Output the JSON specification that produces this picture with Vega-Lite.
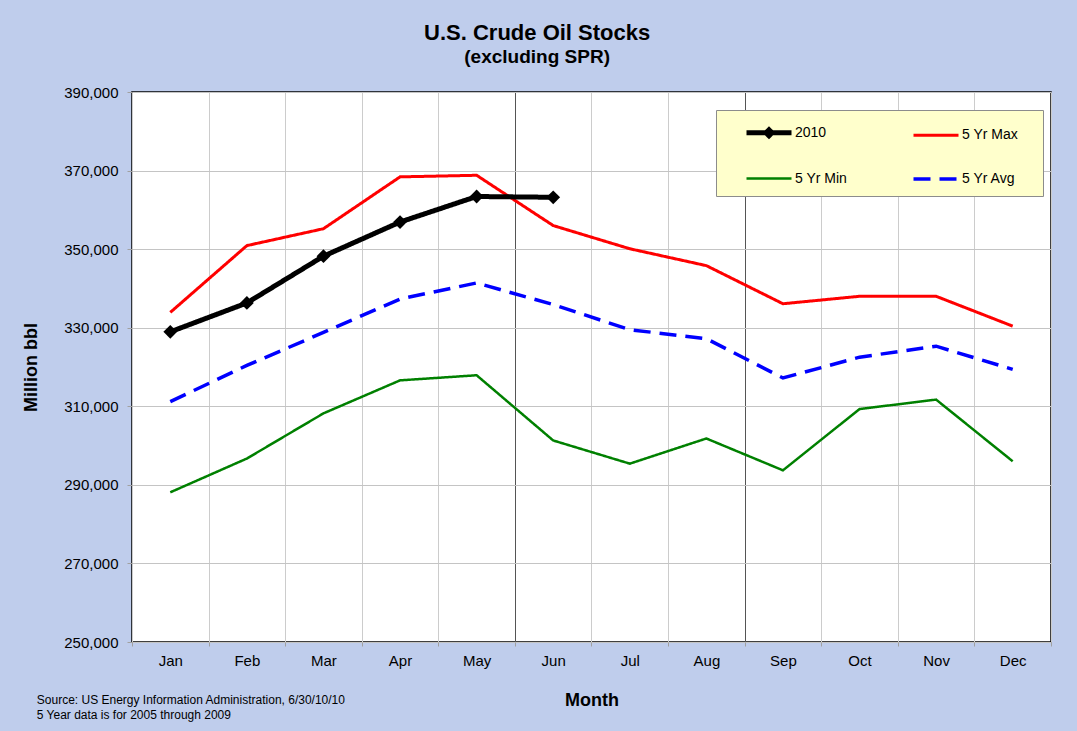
{
  "$schema": "https://vega.github.io/schema/vega-lite/v6.json",
  "background": "#bfcdec",
  "padding": {"left": 22, "top": 22, "right": 25, "bottom": 10},
  "title": {
    "text": "U.S. Crude Oil Stocks",
    "subtitle": "(excluding SPR)",
    "anchor": "middle",
    "font": "Liberation Sans",
    "subtitleFont": "Liberation Sans",
    "fontSize": 22,
    "subtitleFontSize": 19,
    "fontWeight": "bold",
    "subtitleFontWeight": "bold",
    "color": "#000000",
    "subtitleColor": "#000000",
    "subtitlePadding": 3,
    "offset": 16
  },
  "vconcat": [
    {
      "width": 919,
      "height": 550,
      "title": {
        "text": ["Source:  US Energy Information Administration, 6/30/10/10", "5 Year data is for 2005 through 2009"],
        "orient": "bottom",
        "anchor": "start",
        "font": "Liberation Sans",
        "fontSize": 12,
        "fontWeight": "normal",
        "color": "#000000",
        "lineHeight": 15,
        "offset": -14,
        "dx": 14
      },
      "data": {
        "values": [
          {"month": "Jan", "series": "5 Yr Max", "value": 333900},
          {"month": "Feb", "series": "5 Yr Max", "value": 350900},
          {"month": "Mar", "series": "5 Yr Max", "value": 355200},
          {"month": "Apr", "series": "5 Yr Max", "value": 368400},
          {"month": "May", "series": "5 Yr Max", "value": 368800},
          {"month": "Jun", "series": "5 Yr Max", "value": 356000},
          {"month": "Jul", "series": "5 Yr Max", "value": 350100},
          {"month": "Aug", "series": "5 Yr Max", "value": 345800},
          {"month": "Sep", "series": "5 Yr Max", "value": 336100},
          {"month": "Oct", "series": "5 Yr Max", "value": 338000},
          {"month": "Nov", "series": "5 Yr Max", "value": 338000},
          {"month": "Dec", "series": "5 Yr Max", "value": 330400},
          {"month": "Jan", "series": "5 Yr Min", "value": 288100},
          {"month": "Feb", "series": "5 Yr Min", "value": 296700},
          {"month": "Mar", "series": "5 Yr Min", "value": 308200},
          {"month": "Apr", "series": "5 Yr Min", "value": 316600},
          {"month": "May", "series": "5 Yr Min", "value": 317900},
          {"month": "Jun", "series": "5 Yr Min", "value": 301300},
          {"month": "Jul", "series": "5 Yr Min", "value": 295400},
          {"month": "Aug", "series": "5 Yr Min", "value": 301800},
          {"month": "Sep", "series": "5 Yr Min", "value": 293700},
          {"month": "Oct", "series": "5 Yr Min", "value": 309300},
          {"month": "Nov", "series": "5 Yr Min", "value": 311700},
          {"month": "Dec", "series": "5 Yr Min", "value": 296000},
          {"month": "Jan", "series": "5 Yr Avg", "value": 311200},
          {"month": "Feb", "series": "5 Yr Avg", "value": 320400},
          {"month": "Mar", "series": "5 Yr Avg", "value": 328800},
          {"month": "Apr", "series": "5 Yr Avg", "value": 337300},
          {"month": "May", "series": "5 Yr Avg", "value": 341400},
          {"month": "Jun", "series": "5 Yr Avg", "value": 335900},
          {"month": "Jul", "series": "5 Yr Avg", "value": 329500},
          {"month": "Aug", "series": "5 Yr Avg", "value": 327200},
          {"month": "Sep", "series": "5 Yr Avg", "value": 317200},
          {"month": "Oct", "series": "5 Yr Avg", "value": 322500},
          {"month": "Nov", "series": "5 Yr Avg", "value": 325300},
          {"month": "Dec", "series": "5 Yr Avg", "value": 319400},
          {"month": "Jan", "series": "2010", "value": 328950},
          {"month": "Feb", "series": "2010", "value": 336300},
          {"month": "Mar", "series": "2010", "value": 348200},
          {"month": "Apr", "series": "2010", "value": 356900},
          {"month": "May", "series": "2010", "value": 363400},
          {"month": "Jun", "series": "2010", "value": 363200}
        ]
      },
      "layer": [
        {
          "mark": {"type": "line", "clip": true},
          "encoding": {
            "x": {
              "field": "month",
              "type": "ordinal",
              "sort": ["Jan", "Feb", "Mar", "Apr", "May", "Jun", "Jul", "Aug", "Sep", "Oct", "Nov", "Dec"],
              "title": "Month",
              "axis": {
                "labelAngle": 0,
                "tickBand": "extent",
                "grid": true,
                "gridColor": {"condition": {"test": "datum.value === 'May' || datum.value === 'Aug'", "value": "#555555"}, "value": "#cccccc"},
                "tickSize": 4,
                "tickColor": "#a0a0a0",
                "labelPadding": 7,
                "titlePadding": 23
              }
            },
            "y": {
              "field": "value",
              "type": "quantitative",
              "scale": {"domain": [250000, 390000], "nice": false, "zero": false},
              "title": "Million bbl",
              "axis": {
                "values": [250000, 270000, 290000, 310000, 330000, 350000, 370000, 390000],
                "format": ",.0f",
                "grid": true,
                "gridColor": "#c4c4c4",
                "tickSize": 5,
                "tickColor": "#a0a0a0",
                "labelPadding": 9,
                "titlePadding": 23
              }
            },
            "color": {
              "field": "series",
              "type": "nominal",
              "scale": {"domain": ["2010", "5 Yr Min", "5 Yr Max", "5 Yr Avg"], "range": ["#000000", "#008000", "#ff0000", "#0000ff"]},
              "legend": {
                "title": " ",
                "titleOrient": "right",
                "titlePadding": 15,
                "orient": "none",
                "legendX": 584,
                "legendY": 18,
                "columns": 2,
                "encoding": {
                  "symbols": {
                    "shape": {"condition": {"test": "datum.value === '2010'", "value": "M0.8,0L5.3,0M3.05,-0.3L3.35,0L3.05,0.3L2.75,0Z"}, "value": "M0.8,0L5.3,0"},
                    "fill": {"condition": {"test": "datum.value === '2010'", "value": "#000000"}, "value": "transparent"}
                  }
                }
              }
            },
            "strokeDash": {
              "field": "series",
              "type": "nominal",
              "scale": {"domain": ["2010", "5 Yr Min", "5 Yr Max", "5 Yr Avg"], "range": [[1, 0], [1, 0], [1, 0], [17, 9]]},
              "legend": {
                "title": " ",
                "titleOrient": "right",
                "titlePadding": 15,
                "orient": "none",
                "legendX": 584,
                "legendY": 18,
                "columns": 2
              }
            },
            "strokeWidth": {
              "field": "series",
              "type": "nominal",
              "scale": {"type": "ordinal", "domain": ["2010", "5 Yr Min", "5 Yr Max", "5 Yr Avg"], "range": [5, 2.5, 3, 3.5]},
              "legend": {
                "title": " ",
                "titleOrient": "right",
                "titlePadding": 15,
                "orient": "none",
                "legendX": 584,
                "legendY": 18,
                "columns": 2
              }
            }
          }
        },
        {
          "transform": [{"filter": "datum.series === '2010'"}],
          "mark": {"type": "point", "shape": "diamond", "filled": true, "color": "#000000", "opacity": 1, "size": 190},
          "encoding": {
            "x": {"field": "month", "type": "ordinal", "sort": ["Jan", "Feb", "Mar", "Apr", "May", "Jun", "Jul", "Aug", "Sep", "Oct", "Nov", "Dec"]},
            "y": {"field": "value", "type": "quantitative"}
          }
        }
      ]
    }
  ],
  "config": {
    "font": "Liberation Sans",
    "view": {"stroke": "#000000", "strokeWidth": 1.5, "fill": "#ffffff"},
    "axis": {
      "domain": false,
      "labelFont": "Liberation Sans",
      "labelFontSize": 15,
      "labelColor": "#000000",
      "titleFont": "Liberation Sans",
      "titleFontSize": 18,
      "titleFontWeight": "bold",
      "titleColor": "#000000"
    },
    "legend": {
      "fillColor": "#ffffcc",
      "strokeColor": "#8c8c8c",
      "padding": 10,
      "symbolType": "M0.8,0L5.3,0",
      "symbolSize": 400,
      "labelOffset": 44,
      "rowPadding": 21,
      "columnPadding": 45,
      "labelFont": "Liberation Sans",
      "labelFontSize": 14,
      "labelColor": "#000000",
      "titleFontSize": 14,
      "cornerRadius": 0
    }
  }
}
